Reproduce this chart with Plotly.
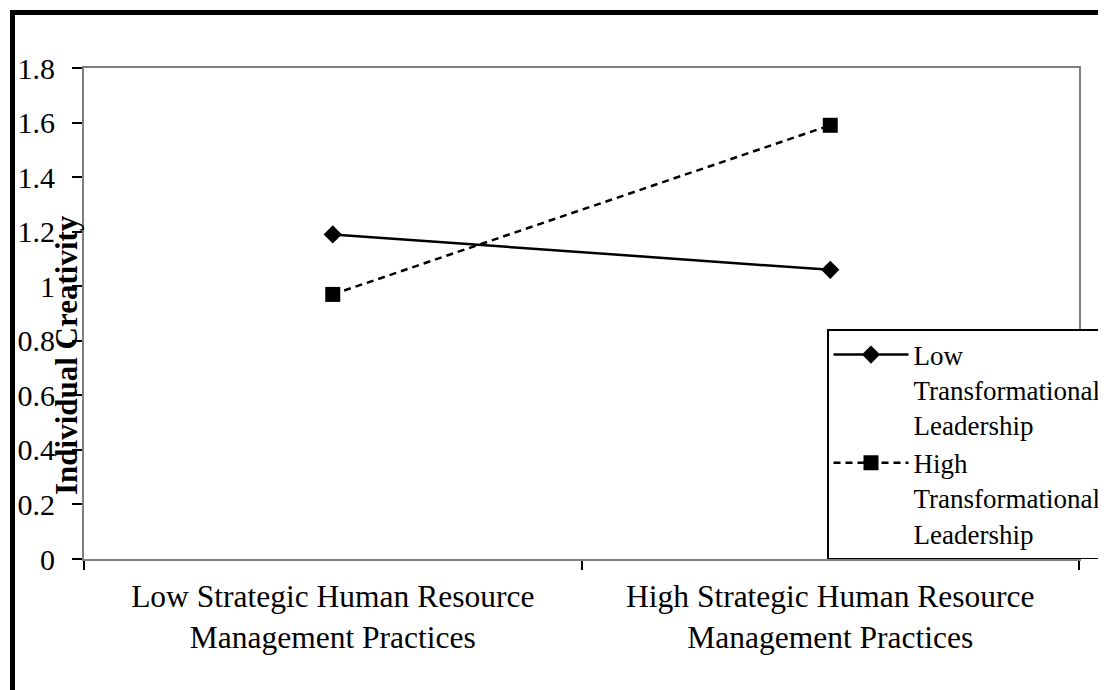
import plotly.graph_objects as go

categories = ["Low Strategic Human Resource<br>Management Practices",
              "High Strategic Human Resource<br>Management Practices"]
low_tl = [1.19, 1.06]
high_tl = [0.97, 1.59]
series_names = ["Low<br>Transformational<br>Leadership",
                "High<br>Transformational<br>Leadership"]
y_tickvals = [0, 0.2, 0.4, 0.6, 0.8, 1.0, 1.2, 1.4, 1.6, 1.8]
y_ticktext = ["0", "0.2", "0.4", "0.6", "0.8", "1", "1.2", "1.4", "1.6", "1.8"]

FONT = "Liberation Serif"
OFF = 8  # page body margin
W, H = 1106 - OFF, 690 - OFF
# plot area in window pixels: x 84..1079, y 68..559
L, T = 84 - OFF, 68 - OFF
R = W - (1079 - OFF)
B = H - (559 - OFF)
pw, ph = W - L - R, H - T - B

def px_x(x):
    return (x - OFF - L) / pw

def px_y(y):
    return (H - B - (y - OFF)) / ph

fig = go.Figure()
fig.add_trace(go.Scatter(
    x=categories, y=low_tl, name=series_names[0], mode="lines+markers",
    line=dict(color="black", width=2.5),
    marker=dict(symbol="diamond", size=14, color="black"),
))
fig.add_trace(go.Scatter(
    x=categories, y=high_tl, name=series_names[1], mode="lines+markers",
    line=dict(color="black", width=2.5, dash="7px,5px"),
    marker=dict(symbol="square", size=15, color="black"),
))

fig.update_layout(
    width=W, height=H,
    margin=dict(l=L, r=R, t=T, b=B, autoexpand=False),
    paper_bgcolor="white", plot_bgcolor="white",
    font=dict(family=FONT, color="black", size=30),
    showlegend=True,
    legend=dict(
        x=px_x(827), y=px_y(329), xanchor="left", yanchor="top",
        bordercolor="black", borderwidth=1.5, bgcolor="white",
        font=dict(family=FONT, size=27, color="black"),
        valign="top", itemwidth=75, tracegroupgap=8,
    ),
    xaxis=dict(
        type="category", range=[-0.5, 1.5],
        showline=True, linecolor="#808080", linewidth=2, mirror=True,
        ticks="outside", tickson="boundaries", ticklen=9, tickcolor="black", tickwidth=1.5,
        showgrid=False, zeroline=False, ticklabelstandoff=8,
        tickfont=dict(family=FONT, size=31.5, color="black"),
    ),
    yaxis=dict(
        range=[0, 1.8], tickvals=y_tickvals, ticktext=y_ticktext,
        showline=True, linecolor="#808080", linewidth=2, mirror=True,
        ticks="outside", ticklen=10, tickcolor="black", tickwidth=1.5,
        showgrid=False, zeroline=False, ticklabelstandoff=11,
        tickfont=dict(family=FONT, size=30, color="black"),
    ),
    annotations=[dict(
        text="<b>Individual Creativity</b>", textangle=-90,
        xref="paper", yref="paper", x=px_x(66), y=px_y(355),
        xanchor="center", yanchor="middle", showarrow=False,
        font=dict(family=FONT, size=31, color="black"),
    )],
    shapes=[
        dict(type="line", xref="paper", yref="paper",
             x0=px_x(12.5), x1=px_x(12.5), y0=px_y(12.5), y1=px_y(700),
             line=dict(color="black", width=5)),
        dict(type="line", xref="paper", yref="paper",
             x0=px_x(10), x1=px_x(1110), y0=px_y(12.5), y1=px_y(12.5),
             line=dict(color="black", width=5)),
    ],
)

fig.write_html("out.html")
